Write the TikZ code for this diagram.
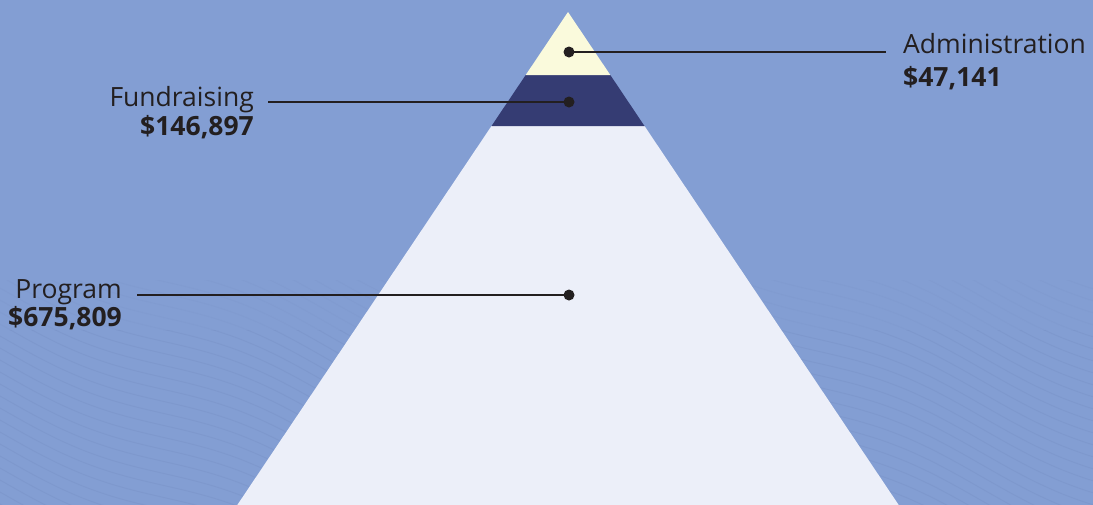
\documentclass[tikz,border=0pt]{standalone}
\usepackage{fontspec}
\setmainfont{Open Sans}
\definecolor{bgblue}{HTML}{839ED3}
\definecolor{wave}{HTML}{7891C6}
\definecolor{topyellow}{HTML}{FAFADC}
\definecolor{navy}{HTML}{353C73}
\definecolor{lightband}{HTML}{ECEFF9}
\definecolor{ink}{HTML}{231F20}
\begin{document}
\begin{tikzpicture}[x=1pt,y=-1pt,
  lbl/.style={inner sep=0pt,text=ink,font=\fontsize{26.5}{32}\selectfont},
  amt/.style={inner sep=0pt,text=ink,font=\fontsize{26.5}{32}\selectfont\bfseries},
  dotmark/.style={circle,fill=ink,inner sep=0pt,minimum size=11pt},
  leader/.style={draw=ink,line width=2.4pt}]
\useasboundingbox (0,0) rectangle (1093,504);
\fill[bgblue] (-5,-5) rectangle (1100,512);
% faint wave texture
\begin{scope}
\clip (-5,330) rectangle (1100,512);
\foreach \c in {-480,-468,...,504} {
  \draw[wave,line width=0.9pt,opacity=0.45] plot[smooth,domain=-20:1113,samples=45] (\x,{\c+0.4*\x+9*sin(\x*1.1)});
}
\end{scope}
\begin{scope}
\clip (-5,280) rectangle (1100,330);
\foreach \c in {-480,-468,...,330} {
  \draw[wave,line width=0.9pt,opacity=0.2] plot[smooth,domain=-20:1113,samples=45] (\x,{\c+0.4*\x+9*sin(\x*1.1)});
}
\end{scope}
% pyramid bands
\fill[lightband] (491.5,126) -- (644.5,126) -- (903.4,512) -- (232.6,512) -- cycle;
\fill[navy] (525.7,75) -- (610.3,75) -- (644.5,126) -- (491.5,126) -- cycle;
\fill[topyellow] (568,12) -- (610.3,75) -- (525.7,75) -- cycle;
% dots
\node[dotmark] (dadmin) at (569,52) {};
\node[dotmark] (dfund) at (569,102) {};
\node[dotmark] (dprog) at (569,295) {};
% labels
\node[lbl,anchor=base west] (ladmin) at (903,53) {Administration};
\node[amt,anchor=base west] (aadmin) at (903,86) {\$47,141};
\node[lbl,anchor=base east] (lfund) at (254,106) {Fundraising};
\node[amt,anchor=base east] (afund) at (254,135) {\$146,897};
\node[lbl,anchor=base east] (lprog) at (122,298) {Program};
\node[amt,anchor=base east] (aprog) at (122,326) {\$675,809};
% leader ends
\coordinate (eadmin) at (886,52);
\coordinate (efund) at (268,102);
\coordinate (eprog) at (137,295);
\draw[leader] (dadmin.center) -- (eadmin);
\draw[leader] (dfund.center) -- (efund);
\draw[leader] (dprog.center) -- (eprog);
\end{tikzpicture}
\end{document}
